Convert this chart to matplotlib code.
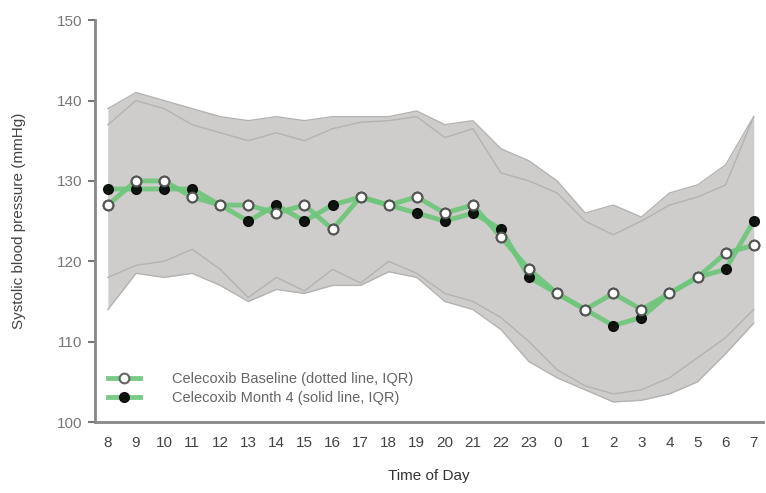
import matplotlib.pyplot as plt
import numpy as np

plt.rcParams['font.family'] = ['Liberation Sans', 'DejaVu Sans']

hours = ['8', '9', '10', '11', '12', '13', '14', '15', '16', '17', '18', '19',
         '20', '21', '22', '23', '0', '1', '2', '3', '4', '5', '6', '7']

# medians
baseline_median = [127, 130, 130, 128, 127, 127, 126, 127, 124, 128, 127, 128,
                   126, 127, 123, 119, 116, 114, 116, 114, 116, 118, 121, 122]
month4_median = [129, 129, 129, 129, 127, 125, 127, 125, 127, 128, 127, 126,
                 125, 126, 124, 118, 116, 114, 112, 113, 116, 118, 119, 125]

# interquartile ranges
baseline_q3 = [139, 141, 140, 139, 138, 137.5, 138, 137.5, 138, 138, 138, 138.7,
               137, 137.5, 134, 132.5, 130, 126, 127, 125.5, 128.5, 129.5, 132, 138]
baseline_q1 = [114, 118.5, 118, 118.5, 117, 115, 116.5, 116, 117, 117, 118.7, 118,
               115, 114, 111.5, 107.5, 105.5, 104, 102.5, 102.7, 103.5, 105, 108.5, 112.3]
month4_q3 = [137, 140, 139, 137, 136, 135, 136, 135, 136.5, 137.3, 137.5, 138,
             135.4, 136.5, 131, 130, 128.5, 125, 123.3, 125, 127, 128, 129.5, 138]
month4_q1 = [118, 119.5, 120, 121.5, 119, 115.5, 118, 116.3, 119, 117.3, 120, 118.5,
             116, 115, 113, 110, 106.5, 104.5, 103.5, 104, 105.5, 108, 110.5, 114]

x = np.arange(len(hours))
band_col = '#cfcdcb'
edge_col = '#b5b3b1'
green = '#6cc67a'

fig = plt.figure(figsize=(7.66, 4.93), dpi=100)
ax = fig.add_axes([0.124, 0.144, 0.872, 0.815])

ax.fill_between(x, baseline_q1, baseline_q3, color=band_col, lw=0, zorder=1)
ax.fill_between(x, month4_q1, month4_q3, color=band_col, lw=0, zorder=1)
for s in (baseline_q1, baseline_q3, month4_q1, month4_q3):
    ax.plot(x, s, color=edge_col, lw=1, zorder=2)

l1, = ax.plot(x, baseline_median, color=green, lw=3.5, alpha=0.9, zorder=3,
              marker='o', ms=7, mfc='white', mec='#555555', mew=1.5,
              label='Celecoxib Baseline (dotted line, IQR)')
l2, = ax.plot(x, month4_median, color=green, lw=3.5, alpha=0.9, zorder=3,
              marker='o', ms=7, mfc='black', mec='black',
              label='Celecoxib Month 4 (solid line, IQR)')
# open markers drawn on top
ax.plot(x, baseline_median, ls='none', marker='o', ms=7, mfc='white',
        mec='#555555', mew=1.5, zorder=4)

ax.set_xlim(-0.46, 23.33)
ax.set_ylim(100, 150)
ax.set_yticks([100, 110, 120, 130, 140, 150])
ax.set_xticks(x)
ax.set_xticklabels(hours)
ax.tick_params(axis='x', length=0, pad=10, labelsize=11, colors='#444444')
ax.tick_params(axis='y', length=5, width=1.5, color='#777777', labelsize=11,
               labelcolor='#777777', pad=4)

for side in ('top', 'right'):
    ax.spines[side].set_visible(False)
for side in ('left', 'bottom'):
    ax.spines[side].set_color('#888888')
    ax.spines[side].set_linewidth(2)

ax.set_ylabel('Systolic blood pressure (mmHg)', fontsize=11, color='#444444', labelpad=22)
ax.set_xlabel('Time of Day', fontsize=11, color='#333333', labelpad=14)

leg = ax.legend(handles=[l1, l2], loc='lower left', bbox_to_anchor=(0.0, 0.01),
                frameon=False, fontsize=10.5, labelcolor='#666666',
                handlelength=2.2, handletextpad=2.2, labelspacing=0.3)

fig.savefig('out.png', dpi=100)
